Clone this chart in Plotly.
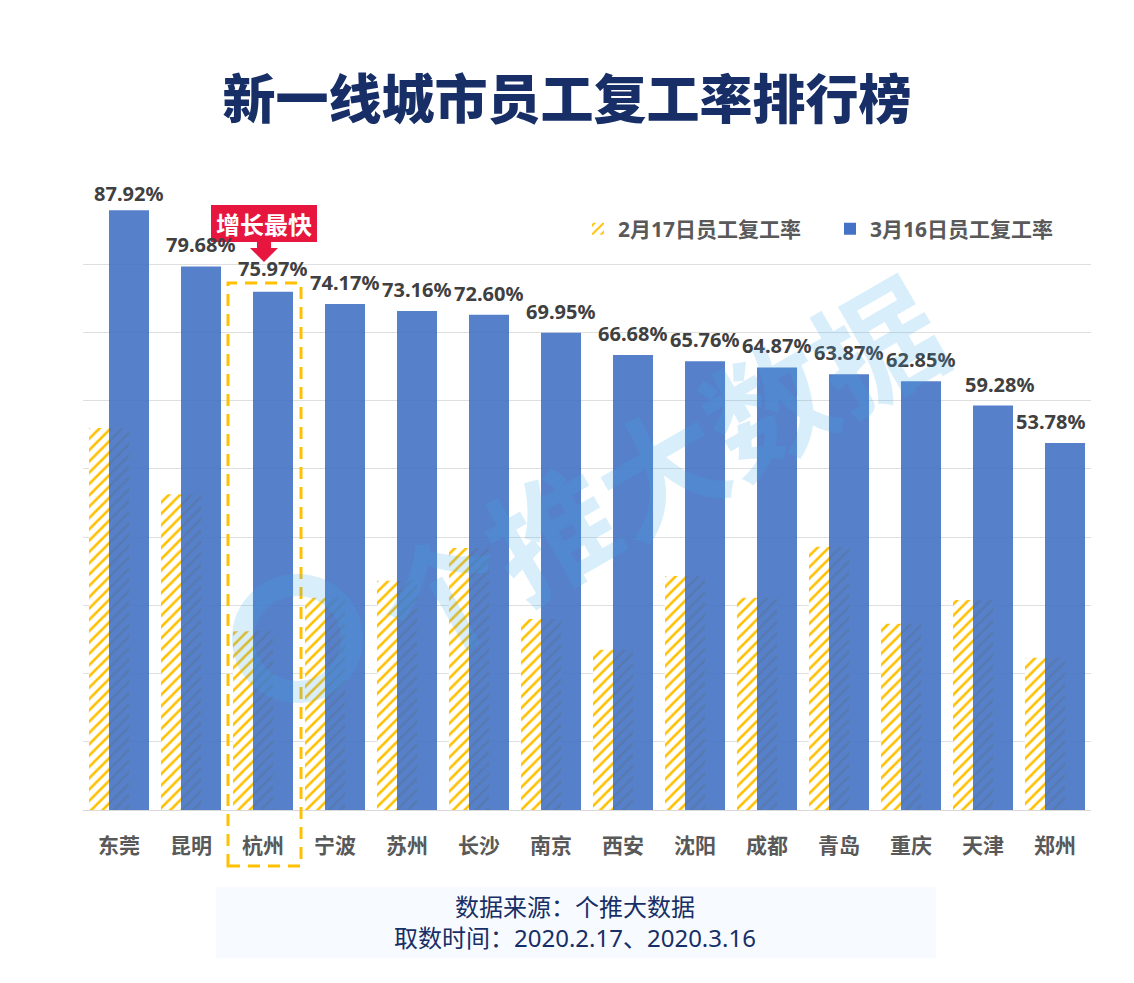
import plotly.graph_objects as go

cities = ["东莞","昆明","杭州","宁波","苏州","长沙","南京","西安","沈阳","成都","青岛","重庆","天津","郑州"]
feb17 = [56.0,46.3,26.2,31.1,33.6,38.4,28.0,23.5,34.3,31.1,38.6,27.3,30.8,22.3]
mar16 = [87.92,79.68,75.97,74.17,73.16,72.60,69.95,66.68,65.76,64.87,63.87,62.85,59.28,53.78]
series_names = ["2月17日员工复工率","3月16日员工复工率"]
label_xshift = {"天津":7,"郑州":-14}
label_yshift = {"东莞":1,"杭州":8}

W,H = 1134,983
L,R,T,B = 83,43,196,173
FONT = "Noto Sans, Noto Sans CJK SC"
NAVY = "#172F66"
WM = "rgba(64,170,235,0.2)"
def px(x): return (x-L)/(W-L-R)
def py(y): return (H-B-y)/(H-T-B)

fig = go.Figure()
fig.add_bar(name=series_names[0], x=cities, y=feb17, width=0.556, offset=-0.417,
            marker=dict(color="#FFC000", line_width=0,
                        pattern=dict(shape="/", fgcolor="#FFC000", fgopacity=1, bgcolor="white", size=8, solidity=0.32)))
fig.add_bar(name=series_names[1], x=cities, y=mar16, width=0.556, offset=-0.139,
            marker=dict(color="#4472C4", opacity=0.9, line_width=0))

ann = []
for i,(c,v) in enumerate(zip(cities,mar16)):
    ann.append(dict(x=i+0.139-0.014, y=v, xref="x", yref="y", text=f"{v:.2f}%", showarrow=False,
                    xanchor="center", yanchor="bottom", yshift=label_yshift.get(c,6), xshift=label_xshift.get(c,0),
                    font=dict(family=FONT,size=20,color="#404040",weight=700)))
def center(x,y,text,font,**kw):
    return dict(x=px(x),y=py(y),xref="paper",yref="paper",text=text,showarrow=False,
                xanchor="center",yanchor="middle",font=font,**kw)
ann.append(center(264,224,"增长最快",dict(family=FONT,size=24,color="white",weight=700)))
ann.append(center(575,906,"数据来源：个推大数据",dict(family=FONT,size=24,color=NAVY)))
ann.append(center(575,937,"取数时间：2020.2.17、2020.3.16",dict(family=FONT,size=24,color=NAVY)))
ann.append(center(660,470,"个推大数据",dict(family=FONT,size=125,color=WM,weight=700),textangle=-30))

def P(x,y): return f"{px(x)},{py(y)}"
shapes = [
    dict(type="rect",xref="paper",yref="paper",x0=px(216),x1=px(936),y0=py(958),y1=py(887),
         fillcolor="#F7FBFF",line_width=0,layer="below"),
    dict(type="rect",xref="paper",yref="paper",x0=px(211),x1=px(317),y0=py(242),y1=py(205),
         fillcolor="#E6163F",line_width=0),
    dict(type="rect",xref="paper",yref="paper",x0=px(228),x1=px(301),y0=py(866),y1=py(283),
         fillcolor="rgba(0,0,0,0)",line=dict(color="#FFC000",width=3,dash="12px,8px")),
    dict(type="path",xref="paper",yref="paper",fillcolor="#E6163F",line_width=0,
         path=f"M{P(257,242)} L{P(271,242)} L{P(271,248)} L{P(278,248)} L{P(264,262)} L{P(250,248)} L{P(257,248)} Z"),
    dict(type="circle",xref="paper",yref="paper",x0=px(243),x1=px(352),y0=py(692),y1=py(585),
         fillcolor="rgba(0,0,0,0)",line=dict(color=WM,width=22)),
]

fig.update_layout(
    width=W,height=H,autosize=False,margin=dict(l=L,r=R,t=T,b=B,pad=0),
    paper_bgcolor="white",plot_bgcolor="white",barmode="overlay",
    font=dict(family=FONT),
    title=dict(text="新一线城市员工复工率排行榜",x=0.5,xanchor="center",y=1-100/H,yanchor="middle",
               font=dict(family=FONT,size=53,color=NAVY,weight=900)),
    legend=dict(orientation="h",x=px(578),y=py(229),xanchor="left",yanchor="middle",entrywidth=207,entrywidthmode="pixels",
                font=dict(family=FONT,size=21,color="#595959",weight=700),bgcolor="rgba(0,0,0,0)"),
    xaxis=dict(type="category",range=[-0.5,13.5],showgrid=False,showline=True,linecolor="#D9D9D9",linewidth=1,
               ticks="",ticklabelstandoff=17,tickfont=dict(family=FONT,size=21,color="#595959",weight=700)),
    yaxis=dict(range=[0,90],dtick=10,showticklabels=False,showgrid=True,gridcolor="#DFDFDF",gridwidth=1,
               zeroline=False,ticks=""),
    annotations=ann,shapes=shapes,
)
fig.write_html("out.html",config={"displayModeBar":False},post_script="document.body.style.margin='0';")
